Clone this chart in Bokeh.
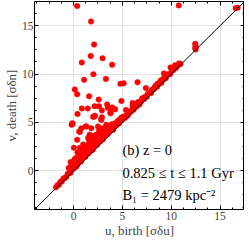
from bokeh.plotting import figure
from bokeh.models import LinearAxis, SingleIntervalTicker, Label, Range1d, ColumnDataSource
from bokeh.embed import file_html
from bokeh.resources import INLINE

# points lying on / just above the diagonal
u_diag = [-1.8, -1.65, -1.5, -1.35, -1.2, -1.05, -0.9, -0.75, -0.6, -0.45, -0.3, -0.15, 0.0, 0.15, 0.3,
          0.45, 0.6, 0.75, 0.9, 1.05, 1.2, 1.35, 1.5, 1.65, 1.8, 1.95, 2.1, 2.25, 2.4, 2.55, 2.7, 2.85,
          3.0, 3.15, 3.3, 3.45, 3.6, 3.75, 3.9, 4.05, 4.2, 4.35, 4.5, 4.65, 4.8, 4.95, 5.1, 5.25, 5.4,
          5.55, 5.7, 5.85, 6.0, 6.15, 6.3, 6.45, 6.6, 6.75, 6.9, 7.05, 7.2, 7.35, 7.5, 7.65, 7.8, 7.95,
          8.1, 8.25, 8.4, 8.55, 8.7, 8.85, 9.0, 9.15, 9.3, 9.45, 9.6, 9.75, 9.9, 10.05, 10.2, 10.35,
          10.5, 10.65, 10.8, 10.95]
v_diag = [-1.7, -1.5, -1.45, -1.15, -1.1, -0.8, -0.75, -0.65, -0.3, -0.25, -0.2, 0.2, 0.2, 0.55, 0.45,
          0.75, 1.1, 0.95, 1.25, 1.5, 1.45, 1.95, 1.8, 2.05, 2.35, 2.15, 2.55, 2.95, 2.7, 3.05, 3.05, 3.45,
          3.25, 3.6, 3.95, 3.75, 4.1, 4.15, 4.45, 4.25, 4.65, 4.7, 5.1, 4.9, 5.2, 5.25, 5.6, 5.45, 5.75,
          5.7, 6.0, 6.1, 6.4, 6.3, 6.6, 6.65, 6.95, 6.85, 7.15, 7.5, 7.4, 7.65, 7.65, 8.0, 8.05, 8.05,
          8.4, 8.45, 8.8, 8.7, 8.95, 9.15, 9.1, 9.5, 9.5, 9.6, 9.9, 10.0, 10.0, 10.45, 10.4, 10.65,
          10.65, 10.9, 11.0, 11.05]

# dense cloud above the diagonal
u_cloud = [-0.5, -0.37, -0.3, -0.2, 0.0, 0.03, 0.1, 0.2, 0.3, 0.4, 0.5, 0.58, 0.64, 0.7, 0.8, 0.9, 0.98,
           1.0, 1.1, 1.2, 1.3, 1.4, 1.49, 1.5, 1.6, 1.7, 1.8, 1.9, 2.0, 2.1, 2.2, 2.33, 2.4, 2.5, 2.6,
           2.7, 2.8, 2.9, 3.0, 3.1, 3.2, 3.34, 3.4, 3.5, 3.6, 3.7, 3.85, 3.9, 4.0, 4.2, 4.4, 4.6, 4.8,
           5.0, 5.37, 5.6, 6.05, 6.3, 6.6, 7.0, 7.3, 7.6, 8.0, 8.34, 8.6, 8.92, 9.25, 9.5, 9.93, 10.26,
           10.4, 10.6, 10.8, -0.2, 0.58, 1.25, 2.0, 2.84, 1.82, -0.1, 0.64, 1.32, 0.8, 1.65, 0.37, 2.5,
           -0.13, 2.1, 2.9, 3.78, 4.93]
v_cloud = [0.3, 0.35, 0.9, 0.6, 0.8, 2.38, 1.2, 0.9, 1.36, 1.9, 1.1, 1.8, 2.38, 1.5, 1.3, 2.0, 2.72,
           1.6, 2.3, 1.8, 2.6, 2.1, 3.4, 2.4, 3.0, 2.5, 3.2, 2.7, 3.6, 2.9, 3.3, 3.73, 3.1, 3.5, 4.1,
           3.4, 3.9, 4.4, 3.7, 4.2, 3.9, 4.75, 4.3, 4.0, 4.6, 4.3, 4.41, 4.8, 4.5, 4.9, 4.8, 5.2, 5.4,
           5.5, 6.28, 6.0, 6.79, 6.8, 7.1, 7.4, 7.63, 7.95, 8.35, 8.65, 9.0, 9.33, 10.07, 9.9, 10.68, 10.68,
           10.9, 10.9, 11.1, 4.75, 4.07, 4.58, 5.6, 5.26, 4.41, 4.85, 4.0, 4.58, 4.4, 3.73, 3.2, 4.58,
           4.92, 5.6, 5.53, 5.94, 5.5]

# scattered outliers
u_out = [0.37, 1.79, 2.1, 1.76, 0.84, 2.97, 3.95, 2.03, 1.08, 3.31, 4.8, 5.13, 0.13, 0.37, 1.59, 2.57,
         4.9, 0.84, 1.45, 2.16, 2.6, 2.9, 3.44, 3.51, 3.95, 4.26, 3.78, 0.4, 2.2, 2.84, 4.02, 10.77,
         16.6, 16.8, 12.45, 12.5, 12.45, 12.5, 6.55, 7.4, 6.05, 9.32, 5.2]
v_out = [17.03, 15.43, 13.06, 11.87, 11.19, 11.64, 10.96, 9.97, 9.4, 9.5, 8.99, 9.05, 8.41, 7.9, 7.7, 7.36,
         7.22, 6.45, 6.45, 6.68, 6.68, 6.24, 6.86, 6.51, 6.55, 6.35, 6.04, 5.87, 5.7, 5.36, 6.45, 17.09,
         16.8, 16.85, 13.12, 12.9, 12.7, 12.55, 9.16, 8.55, 7.02, 10.0, 5.5]

lims = [-4, 17.5]

SERIF = "Liberation Serif"

p = figure(frame_width=210, frame_height=208,
           x_range=Range1d(lims[0], lims[1]), y_range=Range1d(lims[0], lims[1]),
           output_backend="svg", toolbar_location=None,
           min_border_left=0, min_border_right=0, min_border_top=1, min_border_bottom=0,
           x_axis_label="u, birth [σδu]", y_axis_label="v, death [σδn]")

p.outline_line_color = "black"
p.outline_line_width = 1
p.grid.grid_line_color = "#e3e3e3"
p.grid.grid_line_width = 1
p.background_fill_color = "white"
p.border_fill_color = "white"

for ax in [p.xaxis[0], p.yaxis[0]]:
    ax.ticker = SingleIntervalTicker(interval=5, num_minor_ticks=4)
    ax.major_tick_in = 4
    ax.major_tick_out = 0
    ax.minor_tick_in = 2
    ax.minor_tick_out = 0
    ax.axis_line_color = None
    ax.major_label_text_font = SERIF
    ax.major_label_text_font_size = "11.5px"
    ax.major_label_standoff = 2
    ax.axis_label_text_font = SERIF
    ax.axis_label_text_font_size = "13px"
    ax.axis_label_text_font_style = "normal"
    ax.axis_label_standoff = 0
p.yaxis[0].major_label_standoff = 1

for loc in ["above", "right"]:
    ax = LinearAxis(ticker=SingleIntervalTicker(interval=5, num_minor_ticks=4),
                    major_tick_in=4, major_tick_out=0, minor_tick_in=2, minor_tick_out=0,
                    axis_line_color=None, major_label_text_font_size="1px",
                    major_label_text_color=None, major_label_standoff=0)
    p.add_layout(ax, loc)

p.grid.ticker = SingleIntervalTicker(interval=5)

red = "#ff0000"
for us, vs in [(u_diag, v_diag), (u_cloud, v_cloud), (u_out, v_out)]:
    src = ColumnDataSource(dict(u=us, v=vs))
    p.scatter("u", "v", source=src, size=5.5, fill_color=red, line_color=red, line_width=0.5)

p.line(x=lims, y=lims, line_color="black", line_width=1)

texts = [("(b) z = 0", 2.1), ("0.825 ≤ t ≤ 1.1 Gyr", -0.2), ("B₁ = 2479 kpc⁻²", -2.45)]
for t, yy in texts:
    p.add_layout(Label(x=5.0, y=yy, text=t, text_font=SERIF, text_font_size="14.5px",
                       text_baseline="middle", text_align="left", text_color="black"))

open("out.html", "w").write(file_html(p, INLINE))
